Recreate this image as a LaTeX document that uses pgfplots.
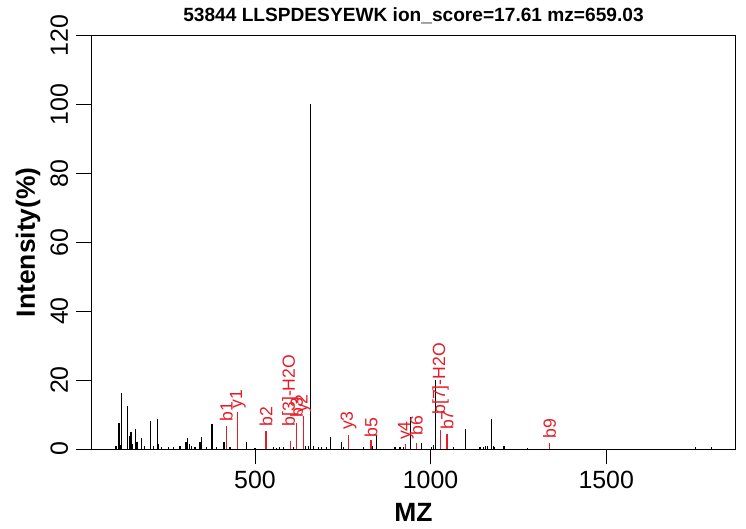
\documentclass[border=0pt]{standalone}
\usepackage{pgfplots}
\pgfplotsset{compat=1.18}
\usepackage{fontspec}
\setmainfont{Liberation Sans}
\definecolor{pkred}{RGB}{232,28,38}

\pgfplotstableread{
mz int
104.5 1.0
113.0 7.5
115.8 1.2
120.7 16.2
137.8 12.5
142.3 3.8
147.2 5.0
152.0 1.5
160.5 5.7
164.2 2.0
177.6 3.1
185.0 0.8
203.2 8.2
210.6 1.0
222.0 8.6
226.0 1.5
234.6 0.5
253.3 0.5
267.6 0.6
286.6 0.8
303.7 2.0
307.4 3.1
313.1 1.5
320.0 0.8
329.3 0.5
343.6 2.0
347.3 3.4
362.7 0.5
377.7 7.3
391.1 0.5
411.9 2.0
429.0 0.6
476.5 2.1
500.0 0.3
552.0 0.5
562.0 0.4
571.0 0.5
580.7 0.6
609.0 0.5
645.0 1.0
652.0 0.8
657.0 3.5
659.03 100
666.0 1.0
680.0 0.5
690.0 0.5
704.0 0.5
715.6 3.4
747.0 2.0
751.5 0.7
808.0 0.5
835.0 1.0
846.6 4.0
898.7 0.5
913.0 0.5
922.0 0.5
943.3 9.2
974.7 1.8
1003.0 0.5
1007.7 1.2
1014.5 20.0
1064.6 0.5
1099.9 5.9
1140.6 0.5
1150.0 0.5
1156.8 0.8
1163.0 1.0
1174.0 8.6
1178.5 1.0
1183.0 0.6
1209.0 1.0
1277.0 0.3
1753.0 0.5
1800.0 0.5
}\blackpeaks

\pgfplotstableread{
mz int
418.3 6.7
451.3 10.8
531.4 5.2
600.4 2.4
618.4 7.5
637.4 9.6
766.4 4.1
830.5 2.6
929.5 1.5
959.5 1.8
1028.6 5.5
1046.6 4.4
1338.7 1.8
}\redpeaks

\pgfplotstableread{
mz pos label
418.3 7.9 b1
451.3 11.6 y1
531.4 6.5 b2
600.4 6.5 b[3]-H2O
618.4 9.0 b3
637.4 10.4 y2
766.4 5.5 y3
830.5 3.4 b5
929.5 2.6 y4
959.5 3.8 b6
1028.6 9.9 b[7]-H2O
1046.6 5.5 b7
1338.7 3.1 b9
}\labels

\begin{document}
\begin{tikzpicture}[x=1bp,y=1bp]
\useasboundingbox (0,0) rectangle (746,529);
\begin{axis}[
  at={(91.7bp,80bp)}, anchor=south west,
  width=643.6bp, height=413.6bp, scale only axis,
  xmin=35.3, xmax=1867.4, ymin=0, ymax=120,
  xtick={500,1000,1500}, ytick={0,20,...,120},
  xtick pos=lower, ytick pos=left,
  tick align=outside, major tick length=15.5bp,
  tick style={black, line width=0.9bp},
  axis line style={line width=0.9bp},
  /pgf/number format/assume math mode=true,
  /pgf/number format/1000 sep={},
  ticklabel style={font=\fontsize{25}{25}\selectfont},
  yticklabel style={rotate=90, anchor=south, inner sep=0pt},
  xticklabel style={anchor=north, inner sep=0pt},
  yticklabel shift=8bp,
  xticklabel shift=6bp,
  xlabel={\textbf{MZ}},
  ylabel={\textbf{Intensity(\%)}},
  label style={font=\fontsize{26.5}{26.5}\selectfont},
  xlabel style={at={(axis description cs:0.5,-0.1765)}, anchor=base, inner sep=0pt},
  ylabel style={at={(axis description cs:-0.0881,0.5)}, anchor=base, rotate=0, inner sep=0pt},
  title={\textbf{53844 LLSPDESYEWK ion\_score=17.61 mz=659.03}},
  title style={at={(axis description cs:0.5,1.018)}, anchor=base, inner sep=0pt, font=\fontsize{19.2}{19.2}\selectfont},
  clip=false,
]
\addplot[ycomb, black, line width=1.1bp, mark=none] table[x=mz, y=int] {\blackpeaks};
\addplot[ycomb, pkred, line width=1.3bp, mark=none] table[x=mz, y=int] {\redpeaks};
\addplot[draw=none, mark=none, nodes near coords, point meta=explicit symbolic,
  every node near coord/.style={rotate=90, anchor=west, pkred, inner sep=0pt,
    font=\fontsize{17.7}{17.7}\selectfont}]
  table[x=mz, y=pos, meta=label] {\labels};
\end{axis}
\end{tikzpicture}
\end{document}
